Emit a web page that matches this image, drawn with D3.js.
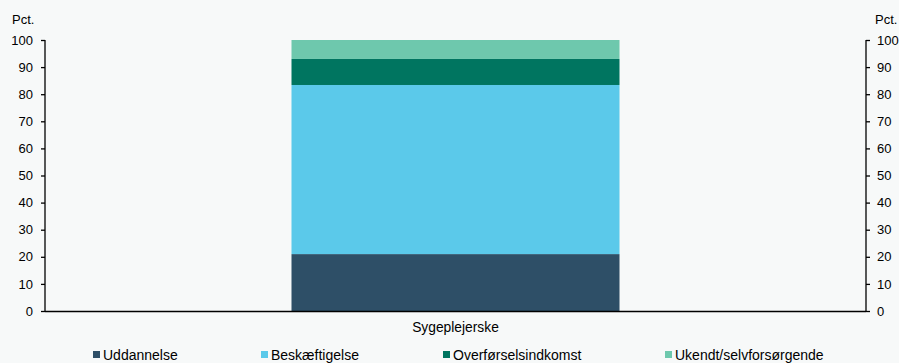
<!DOCTYPE html>
<html><head><meta charset="utf-8">
<script src="https://cdn.jsdelivr.net/npm/d3@7"></script>
<style>
html,body{margin:0;padding:0;background:#f7f9f9;}
svg{display:block;font-family:"Liberation Sans",Arial,sans-serif;}
</style></head>
<body><svg id="c" width="899" height="363"></svg>
<script>
const categories = ["Sygeplejerske"];
const seriesNames = ["Uddannelse","Beskæftigelse","Overførselsindkomst","Ukendt/selvforsørgende"];
const uddannelse = [21.0];
const beskaeftigelse = [62.4];
const overfoersel = [9.6];
const ukendt = [7.0];
const yTicks = [0,10,20,30,40,50,60,70,80,90,100];
const colors = ["#2e4f67","#5bc9ea","#007560","#6ec8ad"];

(function(){
const svg = d3.select("#c");
const mL = 45, mR = 866, mT = 40, mB = 311;
const x = d3.scaleBand().domain(categories).range([mL, mR]).paddingInner(0).paddingOuter(0.3);
const y = d3.scaleLinear().domain([0,100]).range([mB, mT]);

const rows = categories.map((c,i)=>({cat:c, "Uddannelse":uddannelse[i], "Beskæftigelse":beskaeftigelse[i], "Overførselsindkomst":overfoersel[i], "Ukendt/selvforsørgende":ukendt[i]}));
const stack = d3.stack().keys(seriesNames)(rows);

const bw = 328;
svg.append("g").selectAll("g").data(stack).join("g").attr("fill",(d,i)=>colors[i])
  .selectAll("rect").data(d=>d).join("rect")
  .attr("x", d=> x(d.data.cat)+x.bandwidth()/2 - bw/2)
  .attr("width", bw)
  .attr("y", d=> y(d[1]))
  .attr("height", d=> y(d[0]) - y(d[1]));

const fs = "13px";
const la = svg.append("g").attr("transform",`translate(${mL},0)`)
  .call(d3.axisLeft(y).tickValues(yTicks).tickSize(4).tickPadding(8));
const ra = svg.append("g").attr("transform",`translate(${mR},0)`)
  .call(d3.axisRight(y).tickValues(yTicks).tickSize(4).tickPadding(7));
[la,ra].forEach(a=>{
  a.select(".domain").attr("stroke","#000").attr("stroke-width",1.3).attr("d", `M0,${mT}V${mB}`);
  a.selectAll(".tick line").attr("stroke","#000").attr("stroke-width",1.3);
  a.selectAll("text").attr("font-size",fs).attr("fill","#000").attr("font-family","Liberation Sans, Arial, sans-serif");
});

svg.append("line").attr("x1",mL).attr("x2",mR).attr("y1",mB+0.5).attr("y2",mB+0.5).attr("stroke","#000").attr("stroke-width",1.3);

svg.append("g").selectAll("text").data(categories).join("text")
  .attr("x", d=> x(d)+x.bandwidth()/2).attr("y", 332).attr("text-anchor","middle")
  .attr("font-size","13.8px").attr("fill","#000").text(d=>d);

svg.append("text").attr("x",12).attr("y",24).attr("font-size",fs).text("Pct.");
svg.append("text").attr("x",875).attr("y",24).attr("font-size",fs).text("Pct.");

const legX = [93, 261, 443, 665];
const lg = svg.append("g").selectAll("g").data(seriesNames).join("g")
  .attr("transform",(d,i)=>`translate(${legX[i]},351)`);
lg.append("rect").attr("x",0).attr("y",0).attr("width",7).attr("height",7).attr("fill",(d,i)=>colors[i]);
lg.append("text").attr("x",10).attr("y",9).attr("font-size","14px").attr("fill","#000").text(d=>d);
})();
</script></body></html>
